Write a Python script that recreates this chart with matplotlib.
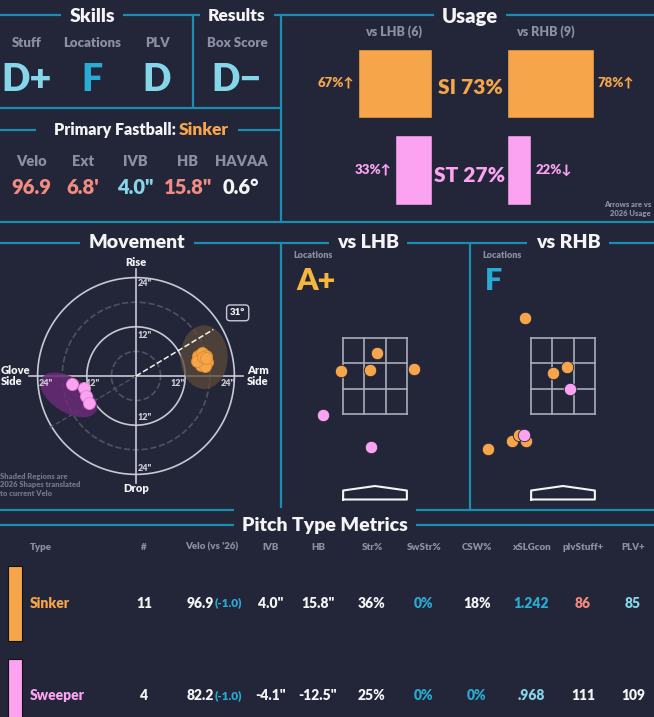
import numpy as np
import matplotlib
matplotlib.use("Agg")
from matplotlib import pyplot as plt
from matplotlib.patches import Ellipse, Rectangle

# ---- data ----
skill_labels = ["Stuff", "Locations", "PLV"]
skill_grades = ["D+", "F", "D"]
result_label = "Box Score"
result_grade = "D\u2212"
fb_labels = ["Velo", "Ext", "IVB", "HB", "HAVAA"]
fb_values = ["96.9", "6.8'", '4.0"', '15.8"', "0.6\u00b0"]

usage_lhb = [67, 33]   # SI, ST
usage_rhb = [78, 22]
usage_total = [73, 27]
usage_arrow_lhb = ["\u2191", "\u2191"]
usage_arrow_rhb = ["\u2191", "\u2193"]
pitch_abbr = ["SI", "ST"]

# movement (inches): HB, IVB
si_hb = [15.0, 16.2, 17.1, 15.6, 16.6, 17.4, 15.9, 16.9, 14.9, 16.3, 17.0]
si_ivb = [4.9, 5.6, 5.0, 3.9, 4.2, 3.4, 2.8, 2.5, 3.6, 4.6, 4.4]
st_hb = [-15.6, -12.7, -12.2, -11.5]
st_ivb = [-2.0, -3.0, -4.9, -6.6]
arm_angle = 31

# locations (feet): plate_x, plate_z
lhb_si_x = [0.04, -0.76, -0.11, 0.87]
lhb_si_z = [2.96, 2.56, 2.58, 2.60]
lhb_st_x = [-1.16, -0.09]
lhb_st_z = [1.58, 0.87]
rhb_si_x = [-0.84, -0.22, 0.09, -1.67, -1.13, -0.98, -0.82]
rhb_si_z = [3.73, 2.51, 2.64, 0.82, 1.00, 1.13, 1.00]
rhb_st_x = [0.16, -0.87]
rhb_st_z = [2.16, 1.13]

tbl_cols = ["Type", "#", "Velo (vs '26)", "IVB", "HB", "Str%", "SwStr%", "CSW%", "xSLGcon", "plvStuff+", "PLV+"]
tbl_types = ["Sinker", "Sweeper"]
tbl_n = ["11", "4"]
tbl_velo = ["96.9", "82.2"]
tbl_velo_diff = ["(-1.0)", "(-1.0)"]
tbl_ivb = ['4.0"', '-4.1"']
tbl_hb = ['15.8"', '-12.5"']
tbl_str = ["36%", "25%"]
tbl_swstr = ["0%", "0%"]
tbl_csw = ["18%", "0%"]
tbl_xslg = ["1.242", ".968"]
tbl_stuff = ["86", "111"]
tbl_plv = ["85", "109"]

# ---- style ----
BG = "#222638"
LINE = "#1a8db2"
ORANGE = "#f6a54a"
PINK = "#fba3f0"
LBLUE = "#86d6e9"
TEAL = "#2aabd4"
SALMON = "#f28b82"
GRAY = "#8a8fa3"
WHITE = "#f4f4f4"
YEL = "#f5b63e"
plt.rcParams["font.family"] = ["Lato", "DejaVu Sans"]
plt.rcParams["font.weight"] = "heavy"

W, H = 654, 717
fig = plt.figure(figsize=(W / 100, H / 100), dpi=100, facecolor=BG)
bg = fig.add_axes([0, 0, 1, 1])
bg.set_xlim(0, W)
bg.set_ylim(H, 0)
bg.axis("off")
bg.set_facecolor(BG)


def px_axes(x0, y0, x1, y1):
    return fig.add_axes([x0 / W, 1 - y1 / H, (x1 - x0) / W, (y1 - y0) / H])


def hline(x0, x1, y):
    bg.plot([x0, x1], [y, y], color=LINE, lw=1.6, solid_capstyle="butt")


def vline(x, y0, y1):
    bg.plot([x, x], [y0, y1], color=LINE, lw=1.6, solid_capstyle="butt")


def title(x, y, s, size=14):
    bg.text(x, y, s, ha="center", va="center", color=WHITE, fontsize=size,
            fontweight="heavy", bbox=dict(facecolor=BG, edgecolor="none", pad=6))


def t(x, y, s, c=WHITE, size=9, ha="center", **kw):
    bg.text(x, y, s, ha=ha, va="center", color=c, fontsize=size, fontweight="heavy", **kw)


# frame lines
hline(0, W, 15)
vline(193, 15, 108)
vline(281, 15, 222)
hline(0, 281, 108)
hline(0, 36, 130)
hline(238, 281, 130)
hline(0, W, 222)
hline(0, W, 243)
vline(281, 243, 510)
vline(470, 243, 510)
hline(0, W, 510)
hline(0, W, 525)

title(92, 16, "Skills")
title(237, 16, "Results", 12.5)
title(470, 16, "Usage", 14.5)
title(137, 243, "Movement")
title(368, 243, "vs LHB")
title(568, 243, "vs RHB")
title(325, 525, "Pitch Type Metrics")

# skills
grade_col = [LBLUE, TEAL, LBLUE]
for x, lab, g, c in zip([27, 92, 157], skill_labels, skill_grades, grade_col):
    t(x, 43, lab, GRAY, 9.5)
    t(x, 80, g, c, 27)
t(237, 43, result_label, GRAY, 9.5)
t(237, 80, result_grade, LBLUE, 27)

# primary fastball
t(176, 130, "Primary Fastball:", WHITE, 11.5, ha="right")
t(179, 130, "Sinker", ORANGE, 12.5, ha="left")
fb_col = [SALMON, SALMON, LBLUE, SALMON, WHITE]
for x, lab, v, c in zip([31, 83, 135, 188, 241], fb_labels, fb_values, fb_col):
    t(x, 161, lab, GRAY, 10.5)
    t(x, 188, v, c, 14.5)

# usage
t(394, 32, "vs LHB (6)", GRAY, 9)
t(545, 32, "vs RHB (9)", GRAY, 9)
scale = 1.11
bar_y = [83, 170]
bar_h = [69, 70]
cols = [ORANGE, PINK]
for i in range(2):
    wl = usage_lhb[i] * scale
    wr = usage_rhb[i] * scale
    bg.barh(bar_y[i], wl, left=432 - wl, height=bar_h[i], color=cols[i], edgecolor=BG)
    bg.barh(bar_y[i], wr, left=507, height=bar_h[i], color=cols[i], edgecolor=BG)
    t(432 - wl - 4, bar_y[i], f"{usage_lhb[i]}%{usage_arrow_lhb[i]}", cols[i], 9.5, ha="right")
    t(507 + wr + 4, bar_y[i], f"{usage_rhb[i]}%{usage_arrow_rhb[i]}", cols[i], 9.5, ha="left")
    t(470, bar_y[i] + 5, f"{pitch_abbr[i]} {usage_total[i]}%", cols[i], 15)
t(651, 209, "Arrows are vs\n2026 Usage", GRAY, 5.5, ha="right", linespacing=1.3)

# movement
ppi = 4.1
cx, cy = 136, 376
R = 110
mv = px_axes(cx - R, cy - R, cx + R, cy + R)
lim = R / ppi
mv.set_xlim(-lim, lim)
mv.set_ylim(-lim, lim)
mv.axis("off")
th = np.linspace(0, 2 * np.pi, 300)
for r, ls in [(6, "--"), (12, "-"), (18, "--"), (24, "-")]:
    mv.plot(r * np.cos(th), r * np.sin(th), color="#c9c9d4" if ls == "-" else "#4d5266",
            lw=1.2, ls=ls, zorder=1)
mv.plot([-26, 26], [0, 0], color="#c9c9d4", lw=1.2, zorder=1)
mv.plot([0, 0], [-26, 26], color="#c9c9d4", lw=1.2, zorder=1)
a = np.radians(arm_angle)
mv.plot([0, -25 * np.cos(a)], [0, -25 * np.sin(a)], color="#4d5266", lw=1, ls="--", zorder=1)
mv.add_patch(Ellipse((16.6, 4.6), 11.5, 15.5, angle=0, facecolor="#5c4a3a", alpha=0.75, zorder=2))
mv.add_patch(Ellipse((-16.4, -4.6), 15.5, 8.5, angle=-32, facecolor="#6b2a78", alpha=0.85, zorder=2))
mv.plot([0, 22 * np.cos(a)], [0, 22 * np.sin(a)], color=WHITE, lw=1.1, ls="--", zorder=3)
mv.scatter(si_hb, si_ivb, s=75, color=ORANGE, edgecolor="#e08a2c", lw=0.6, zorder=4)
mv.scatter(st_hb, st_ivb, s=75, color=PINK, edgecolor="#e37fd6", lw=0.6, zorder=4)
for txt, x, y in [('24"', 2.2, 22.5), ('12"', 2.2, 10), ('12"', 2.2, -10), ('24"', 2.2, -22.5),
                  ('24"', -22, -1.8), ('12"', -10.5, -1.8), ('12"', 10.2, -1.8), ('24"', 22.3, -1.8)]:
    mv.text(x, y, txt, color="#c9c9d4", fontsize=6.5, ha="center", va="center", fontweight="heavy")
mv.text(24.8, 15.4, f"{arm_angle}\u00b0", color=WHITE, fontsize=7, ha="center", va="center",
        fontweight="heavy", bbox=dict(boxstyle="round,pad=0.35", facecolor=BG, edgecolor="#c9c9d4", lw=1))
t(136, 263, "Rise", WHITE, 8)
t(136, 489, "Drop", WHITE, 8)
t(1, 376, "Glove\nSide", WHITE, 8, ha="left", linespacing=1.1)
t(258, 376, "Arm\nSide", WHITE, 8, linespacing=1.1)
t(0, 485, "Shaded Regions are\n2026 Shapes translated\nto current Velo", "#70758a", 5.5, ha="left",
  linespacing=1.3)

# locations
pf = 45.0
for (x0, x1, zc, grade, gc, sx, sz, px_, pz_) in [
        (282, 469, 375, "A+", YEL, lhb_si_x, lhb_si_z, lhb_st_x, lhb_st_z),
        (471, 654, 563, "F", TEAL, rhb_si_x, rhb_si_z, rhb_st_x, rhb_st_z)]:
    t(x0 + 11, 256, "Locations", GRAY, 6.5, ha="left")
    t(x0 + 14, 281, grade, gc, 22, ha="left")
    ax = px_axes(x0, 262, x1, 508)
    ax.set_xlim((x0 - zc) / pf, (x1 - zc) / pf)
    ax.set_ylim(1.6 - (508 - 414) / pf, 1.6 + (414 - 262) / pf)
    ax.axis("off")
    hw = 17 / 24
    zb, zt = 1.6, 3.3
    for xv in np.linspace(-hw, hw, 4):
        ax.plot([xv, xv], [zb, zt], color="#a9acb8", lw=1.2, zorder=1)
    for zv in np.linspace(zb, zt, 4):
        ax.plot([-hw, hw], [zv, zv], color="#a9acb8", lw=1.2, zorder=1)
    plate_x = [-hw, -hw, 0, hw, hw, -hw]
    plate_z = [-0.30, -0.10, 0.0, -0.10, -0.30, -0.30]
    ax.plot(plate_x, plate_z, color=WHITE, lw=1.5)
    ax.scatter(sx, sz, s=80, color=ORANGE, edgecolor="#222638", lw=0.6, zorder=3)
    ax.scatter(px_, pz_, s=80, color=PINK, edgecolor="#222638", lw=0.6, zorder=4)

# table
col_x = [30, 144, 212, 271, 318, 372, 424, 477, 531, 583, 633]
for i, c in enumerate(tbl_cols):
    t(col_x[i], 547, c, GRAY, 7, ha="left" if i == 0 else "center")
row_y = [603, 696]
rows = list(zip(tbl_n, tbl_ivb, tbl_hb, tbl_str, tbl_swstr, tbl_csw, tbl_xslg, tbl_stuff, tbl_plv))
row_cols = [[WHITE, WHITE, WHITE, WHITE, TEAL, WHITE, TEAL, SALMON, LBLUE],
            [WHITE, WHITE, WHITE, WHITE, TEAL, TEAL, LBLUE, WHITE, WHITE]]
idx = [1, 3, 4, 5, 6, 7, 8, 9, 10]
for r in range(2):
    y = row_y[r]
    bg.add_patch(Rectangle((8, y - 37), 14, 75, facecolor=cols[r], edgecolor="#111", lw=0.8))
    t(30, y, tbl_types[r], cols[r], 10, ha="left")
    t(214, y, tbl_velo[r], WHITE, 10, ha="right")
    t(215, y, tbl_velo_diff[r], TEAL, 8.5, ha="left")
    for j, v in enumerate(rows[r]):
        t(col_x[idx[j]], y, v, row_cols[r][j], 10)

fig.savefig("out.png", dpi=100, facecolor=BG)
